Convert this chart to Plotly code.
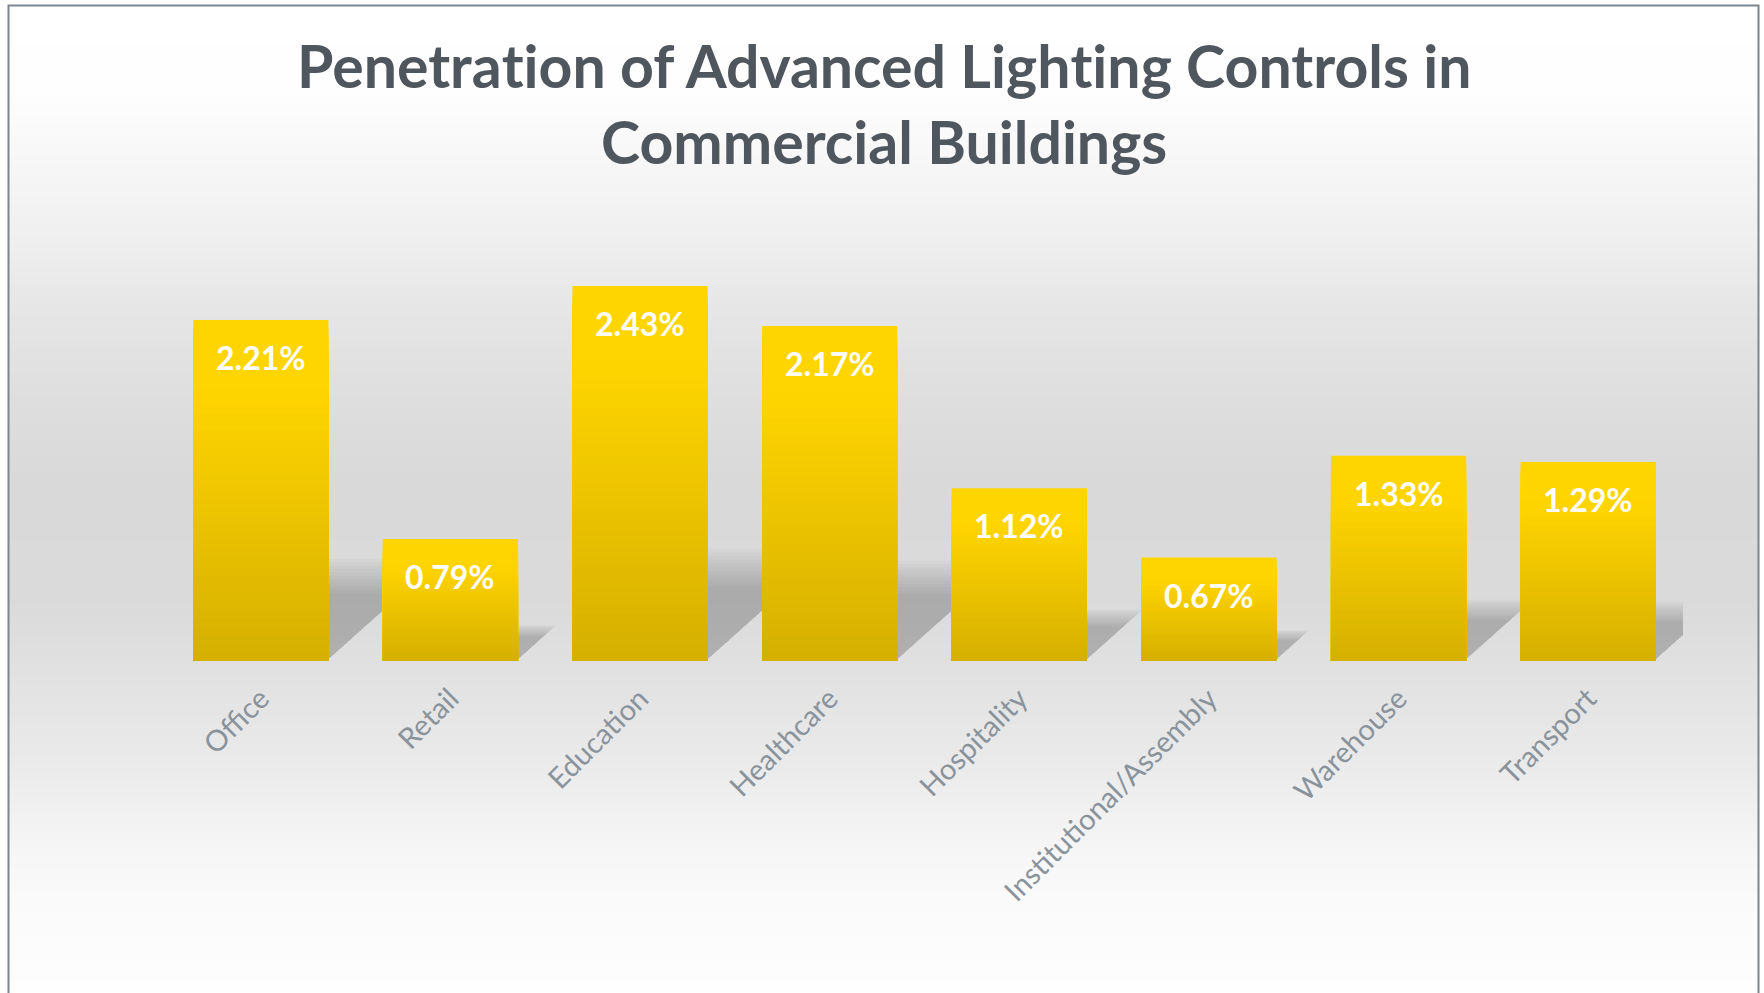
import plotly.graph_objects as go

# ---- data ----
categories = ["Office", "Retail", "Education", "Healthcare", "Hospitality",
              "Institutional/Assembly", "Warehouse", "Transport"]
values = [2.21, 0.79, 2.43, 2.17, 1.12, 0.67, 1.33, 1.29]
labels = ["2.21%", "0.79%", "2.43%", "2.17%", "1.12%", "0.67%", "1.33%", "1.29%"]
title_lines = ["Penetra\u200ction of Advanced Ligh\u200cting Controls in", "Commercial Buildings"]

W, H = 1764, 993
ML, MR, MT, MB = 166, 81, 198, 332
PW, PH = W - ML - MR, H - MT - MB
YMAX = 3.0
BAR_W = 0.713


def px_to_paper_x(px):
    return (px - ML) / PW


def px_to_paper_y(py):
    return (H - MB - py) / PH


def lerp(a, b, t):
    return a + (b - a) * t


# background gradient (by pixel row)
bg_stops = [(0, 255), (90, 254), (150, 248), (200, 243), (250, 238), (300, 231),
            (400, 222), (480, 217), (600, 218), (680, 226), (760, 234), (800, 239),
            (850, 246), (900, 250), (993, 254)]


def bg_level(py):
    for (y0, c0), (y1, c1) in zip(bg_stops[:-1], bg_stops[1:]):
        if y0 <= py <= y1:
            return lerp(c0, c1, (py - y0) / (y1 - y0))
    return 255


shapes = []
STEP = 4
for py in range(0, H + STEP, STEP):
    g = int(round(bg_level(py + STEP / 2)))
    shapes.append(dict(type="rect", xref="paper", yref="paper", layer="below",
                       x0=px_to_paper_x(9), x1=px_to_paper_x(1758),
                       y0=px_to_paper_y(py + STEP + 0.5), y1=px_to_paper_y(py),
                       fillcolor=f"rgb({g},{g},{g})", line=dict(width=0)))

# frame
shapes.append(dict(type="rect", xref="paper", yref="paper", layer="above",
                   x0=px_to_paper_x(8.5), x1=px_to_paper_x(1758.5),
                   y0=px_to_paper_y(1010), y1=px_to_paper_y(5.5),
                   fillcolor="rgba(0,0,0,0)", line=dict(color="#7d858f", width=2)))

# shadows (soft triangles cast to the back-right of each bar)
px_per_unit_y = PH / YMAX
px_per_cat = PW / len(categories)
XMAX = len(categories) - 0.5
layers = [0.80, 0.84, 0.88, 0.92, 0.96, 1.0, 1.04, 1.08, 1.12, 1.16, 1.20]
for i, v in enumerate(values):
    xr = i + BAR_W / 2 - 0.01
    for grow in layers:
        hy = 0.25 * v * grow
        dx = 0.28 * v * px_per_unit_y / px_per_cat * grow
        if xr + dx <= XMAX:
            path = f"M {xr},0 L {xr},{hy} L {xr + dx},{hy} Z"
        else:
            yc = hy * (XMAX - xr) / dx
            path = f"M {xr},0 L {xr},{hy} L {XMAX},{hy} L {XMAX},{yc} Z"
        shapes.append(dict(type="path", xref="x", yref="y", layer="below",
                           path=path, fillcolor="rgba(0,0,0,0.021)",
                           line=dict(width=0)))

fig = go.Figure()

# gradient bars: overlaid bars, each shorter one darker
TOP = (255, 213, 0)
BOT = (213, 175, 0)
N = 40
for k in range(N):
    t = (k + 0.5) / N
    if t < 0.2:
        c = TOP
    else:
        f = (t - 0.2) / 0.8
        c = tuple(int(round(lerp(TOP[j], BOT[j], f))) for j in range(3))
    frac = 1 - k / N
    fig.add_trace(go.Bar(x=categories, y=[v * frac for v in values], width=BAR_W,
                         marker=dict(color=f"rgb({c[0]},{c[1]},{c[2]})", line=dict(width=0)),
                         hoverinfo="skip", showlegend=False))

annotations = []
for cat, v, lab in zip(categories, values, labels):
    annotations.append(dict(x=cat, y=v, xref="x", yref="y", text=lab, showarrow=False,
                            yanchor="top", yshift=-16,
                            font=dict(family="Lato", size=32, color="white", weight="bold")))

title_y = [65, 141]
for line, py in zip(title_lines, title_y):
    annotations.append(dict(x=px_to_paper_x(884), y=px_to_paper_y(py), xref="paper", yref="paper",
                            text=f"<span style='font-variant-ligatures:none'>{line}</span>",
                            showarrow=False, xanchor="center", yanchor="middle",
                            font=dict(family="Lato", size=59, color="#50565e", weight="bold")))

fig.update_layout(
    width=W, height=H,
    margin=dict(l=ML, r=MR, t=MT, b=MB, pad=0, autoexpand=False),
    paper_bgcolor="white", plot_bgcolor="rgba(0,0,0,0)",
    barmode="overlay",
    shapes=shapes, annotations=annotations,
    showlegend=False,
    xaxis=dict(type="category", tickangle=-45, showgrid=False, showline=False,
               zeroline=False, ticks="", ticklabelstandoff=14, automargin=False,
               tickfont=dict(family="Lato", size=29, color="#8a939b")),
    yaxis=dict(range=[0, YMAX], showgrid=False, showticklabels=False, zeroline=False,
               showline=False, ticks="", automargin=False),
)

fig.write_html("out.html", config={"displayModeBar": False},
               post_script="document.body.style.margin='0px';document.body.style.overflow='hidden';")
